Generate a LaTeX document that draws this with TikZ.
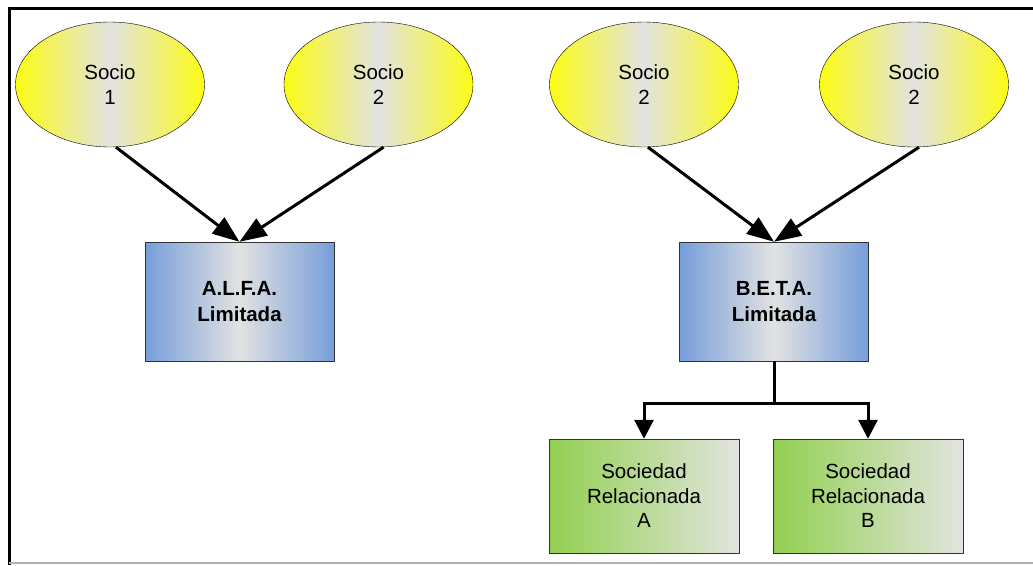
\documentclass[tikz,border=0pt]{standalone}
\usepackage{fontspec}
\setmainfont{Liberation Sans}
\usetikzlibrary{shapes.geometric,arrows.meta}
\definecolor{amarillo}{RGB}{252,252,20}
\definecolor{gris}{RGB}{226,226,226}
\definecolor{azul}{RGB}{118,158,218}
\definecolor{verde}{RGB}{146,208,80}
\definecolor{grisclaro}{RGB}{226,228,222}
\begin{document}
\begin{tikzpicture}[x=1pt, y=-1pt, every node/.style={align=center, font=\fontsize{20.5}{24.5}\selectfont}]
\useasboundingbox (0,0) rectangle (1033,565);
% marco
\draw[line width=3pt] (9,565) -- (9,8) -- (1033,8);
\draw[gray!60, line width=1.5pt] (9,563) -- (1033,563);

\tikzset{socio/.style={ellipse, draw, thin, inner sep=0pt, minimum width=189pt, minimum height=125pt, left color=amarillo, right color=amarillo, middle color=gris}}
\node[socio] (s1) at (110,84.5) {Socio\\1};
\node[socio] (s2) at (378.5,84.5) {Socio\\2};
\node[socio] (s3) at (644,84.5) {Socio\\2};
\node[socio] (s4) at (914,84.5) {Socio\\2};

\tikzset{empresa/.style={rectangle, draw=black!80, minimum width=189pt, minimum height=119pt, left color=azul, right color=azul, middle color=gris, font=\fontsize{20.5}{25.5}\selectfont\bfseries}}
\node[empresa] (alfa) at (239.5,301.5) {A.L.F.A.\\Limitada};
\node[empresa] (beta) at (774,301.5) {B.E.T.A.\\Limitada};

\tikzset{relac/.style={rectangle, draw=black!80, minimum width=190pt, minimum height=114pt, left color=verde, right color=grisclaro}}
\node[relac] (relA) at (644,496) {Sociedad\\Relacionada\\A};
\node[relac] (relB) at (868,496) {Sociedad\\Relacionada\\B};
\coordinate (rama) at (774,403);

\tikzset{flecha/.style={-{Triangle[length=27pt,width=20pt]}, line width=3pt}}
\path ([xshift=6pt]s1.south) edge [flecha] (alfa.north);
\path ([xshift=5pt]s2.south) edge [flecha] (alfa.north);
\path ([xshift=4pt]s3.south) edge [flecha] (beta.north);
\path ([xshift=5pt]s4.south) edge [flecha] (beta.north);

\tikzset{flecha/.style={-{Triangle[length=19pt,width=19pt]}, line width=3pt}}
\path (beta.south) edge [-, line width=3pt] (rama);
\draw[flecha] (rama) -| (relA.north);
\draw[flecha] (rama) -| (relB.north);
\end{tikzpicture}
\end{document}
